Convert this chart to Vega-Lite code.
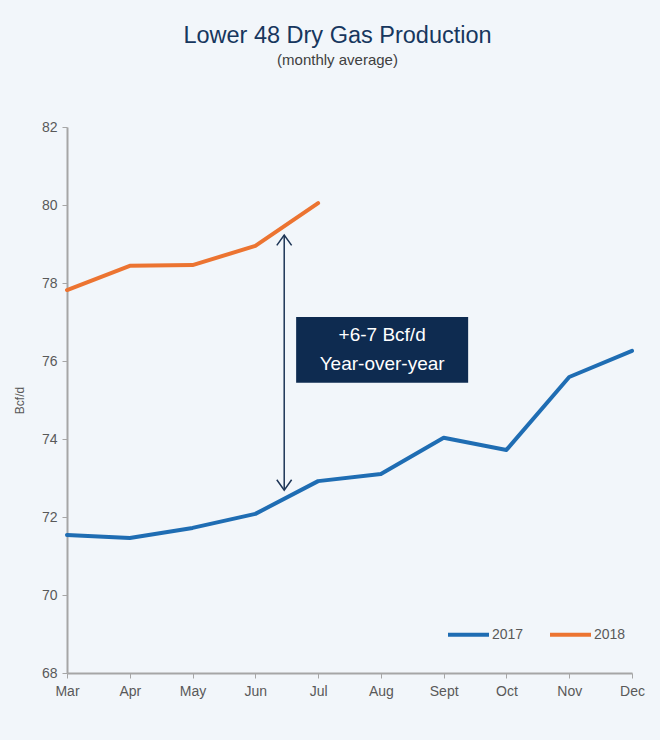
{
  "$schema": "https://vega.github.io/schema/vega-lite/v6.json",
  "width": 565,
  "height": 546,
  "autosize": "none",
  "padding": {"left": 67, "top": 127, "right": 28, "bottom": 67},
  "background": "#f2f6fa",
  "config": {
    "font": "Liberation Sans",
    "view": {"stroke": null}
  },
  "title": {
    "text": "Lower 48 Dry Gas Production",
    "subtitle": "(monthly average)",
    "anchor": "middle",
    "dx": -12,
    "offset": 52,
    "fontSize": 23.5,
    "fontWeight": "normal",
    "color": "#17375e",
    "subtitleFontSize": 15,
    "subtitleColor": "#404040",
    "subtitlePadding": 6
  },
  "datasets": {
    "series": [
      {"i": 0, "month": "Mar", "year": "2017", "value": 71.54},
      {"i": 1, "month": "Apr", "year": "2017", "value": 71.46},
      {"i": 2, "month": "May", "year": "2017", "value": 71.72},
      {"i": 3, "month": "Jun", "year": "2017", "value": 72.08},
      {"i": 4, "month": "Jul", "year": "2017", "value": 72.92},
      {"i": 5, "month": "Aug", "year": "2017", "value": 73.1},
      {"i": 6, "month": "Sept", "year": "2017", "value": 74.03},
      {"i": 7, "month": "Oct", "year": "2017", "value": 73.72},
      {"i": 8, "month": "Nov", "year": "2017", "value": 75.59},
      {"i": 9, "month": "Dec", "year": "2017", "value": 76.26},
      {"i": 0, "month": "Mar", "year": "2018", "value": 77.82},
      {"i": 1, "month": "Apr", "year": "2018", "value": 78.44},
      {"i": 2, "month": "May", "year": "2018", "value": 78.46},
      {"i": 3, "month": "Jun", "year": "2018", "value": 78.95},
      {"i": 4, "month": "Jul", "year": "2018", "value": 80.05}
    ],
    "arrow": [{"x": 3.46, "y1": 79.23, "y2": 72.69}],
    "box": [{"x1": 3.65, "x2": 6.39, "y1": 77.13, "y2": 75.44}],
    "label": [
      {"x": 5.02, "y": 76.67, "text": "+6-7 Bcf/d"},
      {"x": 5.02, "y": 75.92, "text": "Year-over-year"}
    ]
  },
  "layer": [
    {
      "data": {"name": "series"},
      "mark": {"type": "line", "strokeWidth": 4, "strokeCap": "round", "strokeJoin": "round"},
      "encoding": {
        "x": {
          "field": "i", "type": "quantitative",
          "scale": {"domain": [0, 9], "nice": false, "zero": false},
          "axis": {
            "values": [0, 1, 2, 3, 4, 5, 6, 7, 8, 9],
            "labelExpr": "['Mar','Apr','May','Jun','Jul','Aug','Sept','Oct','Nov','Dec'][datum.value]",
            "title": null,
            "grid": false,
            "domainColor": "#a6a6a6",
            "domainWidth": 2,
            "tickColor": "#a6a6a6",
            "tickSize": 5,
            "labelFontSize": 14,
            "labelColor": "#595959",
            "labelPadding": 6,
            "labelFlush": false,
            "labelOverlap": false
          }
        },
        "y": {
          "field": "value", "type": "quantitative",
          "scale": {"domain": [68, 82], "nice": false, "zero": false},
          "axis": {
            "values": [68, 70, 72, 74, 76, 78, 80, 82],
            "title": "Bcf/d",
            "titleFontSize": 12,
            "titleFontWeight": "normal",
            "titleColor": "#595959",
            "titlePadding": 15,
            "grid": false,
            "domainColor": "#a6a6a6",
            "domainWidth": 2,
            "tickColor": "#a6a6a6",
            "tickSize": 5,
            "labelFontSize": 14,
            "labelColor": "#595959",
            "labelPadding": 5
          }
        },
        "color": {
          "field": "year", "type": "nominal",
          "scale": {"domain": ["2017", "2018"], "range": ["#1f6db3", "#ec7431"]},
          "legend": {
            "title": null,
            "orient": "none",
            "legendX": 379,
            "legendY": 485,
            "direction": "horizontal",
            "symbolType": "stroke",
            "symbolSize": 1681,
            "symbolStrokeWidth": 4,
            "labelFontSize": 14,
            "labelColor": "#595959",
            "labelOffset": 1,
            "columnPadding": 18
          }
        },
        "detail": {"field": "year"}
      }
    },
    {
      "data": {"name": "box"},
      "mark": {"type": "rect", "color": "#0e2b50"},
      "encoding": {
        "x": {"field": "x1", "type": "quantitative"},
        "x2": {"field": "x2"},
        "y": {"field": "y1", "type": "quantitative"},
        "y2": {"field": "y2"}
      }
    },
    {
      "data": {"name": "label"},
      "mark": {"type": "text", "color": "white", "fontSize": 19, "align": "center", "baseline": "middle"},
      "encoding": {
        "x": {"field": "x", "type": "quantitative"},
        "y": {"field": "y", "type": "quantitative"},
        "text": {"field": "text"}
      }
    },
    {
      "data": {"name": "arrow"},
      "mark": {"type": "rule", "color": "#1d3556", "strokeWidth": 1.5},
      "encoding": {
        "x": {"field": "x", "type": "quantitative"},
        "y": {"field": "y1", "type": "quantitative"},
        "y2": {"field": "y2"}
      }
    },
    {
      "data": {"name": "arrow"},
      "mark": {"type": "point", "shape": "M-1,1.4L0,0L1,1.4", "filled": false, "size": 220, "strokeWidth": 1.5, "color": "#1d3556", "opacity": 1},
      "encoding": {
        "x": {"field": "x", "type": "quantitative"},
        "y": {"field": "y1", "type": "quantitative"}
      }
    },
    {
      "data": {"name": "arrow"},
      "mark": {"type": "point", "shape": "M-1,-1.4L0,0L1,-1.4", "filled": false, "size": 220, "strokeWidth": 1.5, "color": "#1d3556", "opacity": 1},
      "encoding": {
        "x": {"field": "x", "type": "quantitative"},
        "y": {"field": "y2", "type": "quantitative"}
      }
    }
  ]
}
